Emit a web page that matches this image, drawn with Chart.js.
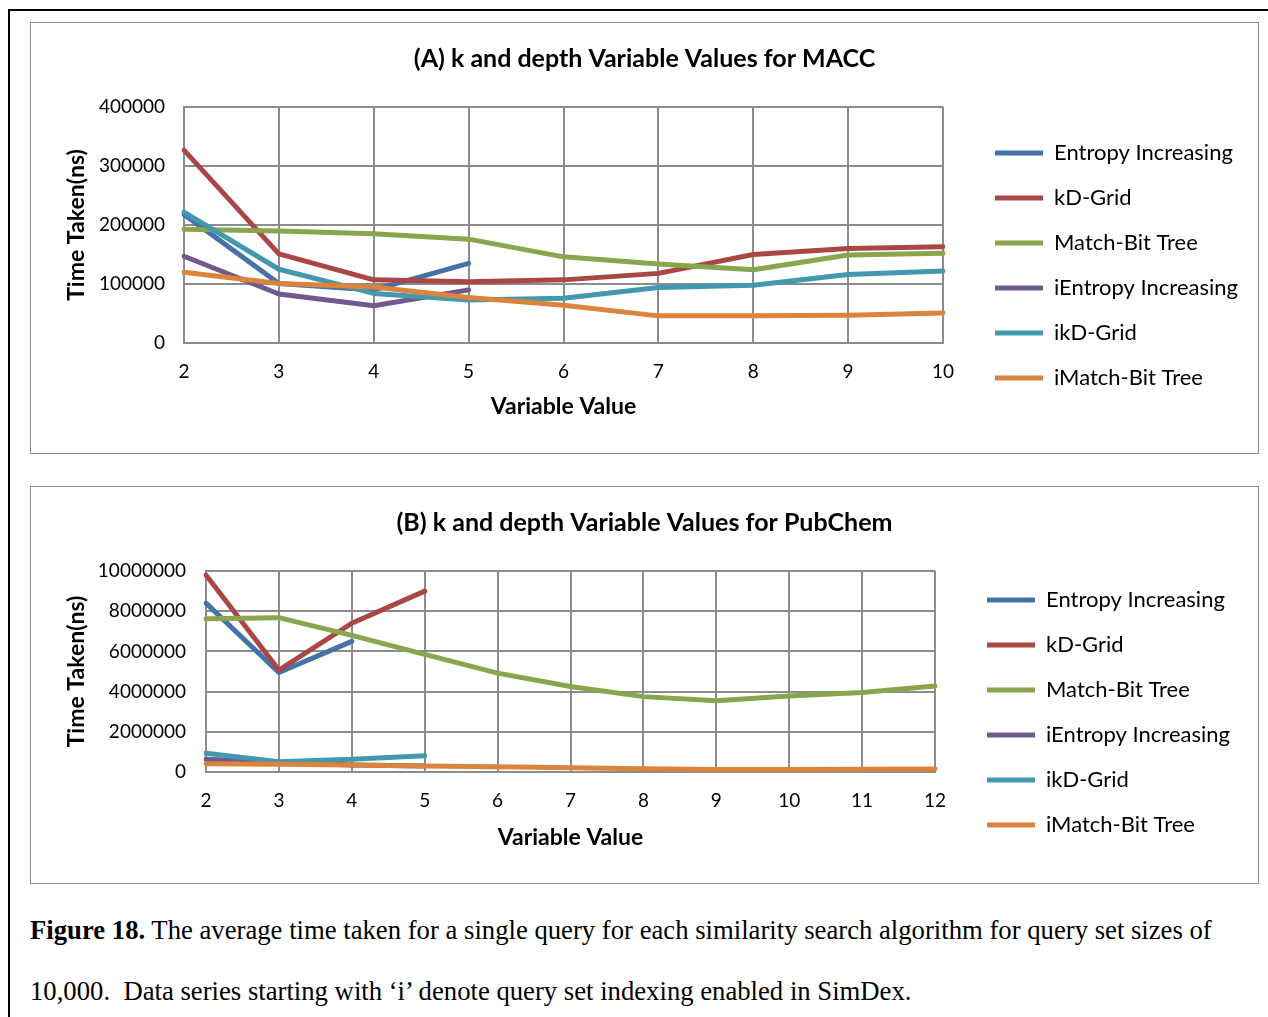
<!DOCTYPE html>
<html>
<head>
<meta charset="utf-8">
<script src="https://cdn.jsdelivr.net/npm/chart.js@4/dist/chart.umd.min.js"></script>
<style>
  body { margin: 0; width: 1268px; height: 1017px; background: #fff; position: relative; overflow: hidden; }
  .frameTop { position: absolute; left: 8px; top: 9px; width: 1260px; height: 2px; background: #000; }
  .frameLeft { position: absolute; left: 8px; top: 9px; width: 2px; height: 1008px; background: #000; }
  .box { position: absolute; left: 30px; width: 1227px; border: 1px solid #8c8c8c; background: #fff; }
  .box canvas { display: block; }
  .caption { position: absolute; left: 30px; font-family: "Liberation Serif", serif; font-size: 26.7px; color: #000; white-space: nowrap; }
</style>
</head>
<body>
<div class="frameTop"></div>
<div class="frameLeft"></div>
<div class="box" style="top:22px;height:430px;"><canvas id="chartA"></canvas></div>
<div class="box" style="top:486px;height:396px;"><canvas id="chartB"></canvas></div>
<div class="caption" style="top:915px;"><b>Figure 18.</b> The average time taken for a single query for each similarity search algorithm for query set sizes of</div>
<div class="caption" style="top:976px;">10,000.&nbsp; Data series starting with ‘i’ denote query set indexing enabled in SimDex.</div>
<script>
const seriesNames = ['Entropy Increasing', 'kD-Grid', 'Match-Bit Tree', 'iEntropy Increasing', 'ikD-Grid', 'iMatch-Bit Tree'];
const seriesColors = ['#4572A7', '#AA4643', '#89A54E', '#71588F', '#4198AF', '#DB843D'];

// (A) MACC
const maccLabels = ['2', '3', '4', '5', '6', '7', '8', '9', '10'];
const maccEntropy = [218000, 101000, 90000, 135000];
const maccKdGrid = [327000, 151000, 107000, 104000, 107000, 118000, 150000, 160000, 163000];
const maccMatchBit = [193000, 190000, 185000, 176000, 146000, 134000, 124000, 149000, 152000];
const maccIEntropy = [147000, 83000, 63000, 90000];
const maccIKdGrid = [222000, 125000, 84000, 73000, 76000, 94000, 98000, 116000, 122000];
const maccIMatchBit = [120000, 101000, 95000, 77000, 64000, 46000, 46000, 47000, 51000];
const maccTicks = [0, 100000, 200000, 300000, 400000];

// (B) PubChem
const pubLabels = ['2', '3', '4', '5', '6', '7', '8', '9', '10', '11', '12'];
const pubEntropy = [8400000, 4950000, 6500000];
const pubKdGrid = [9800000, 5070000, 7400000, 9000000];
const pubMatchBit = [7620000, 7680000, 6800000, 5850000, 4920000, 4250000, 3750000, 3550000, 3780000, 3950000, 4280000];
const pubIEntropy = [640000, 470000, 350000, 300000];
const pubIKdGrid = [930000, 510000, 630000, 810000];
const pubIMatchBit = [410000, 380000, 350000, 300000, 265000, 215000, 165000, 120000, 130000, 140000, 150000];
const pubTicks = [0, 2000000, 4000000, 6000000, 8000000, 10000000];

const FONT = 'Lato, "Open Sans", sans-serif';
const gridColor = '#8c8c8c';
const legendFont = 22;
const legendPad = 23;

// puts the legend block where the original has it, and centres the title on the whole box
const legendPlace = {
    id: 'legendPlace',
    afterLayout(chart, args, opts) {
        const lg = chart.legend;
        const w = lg.right - lg.left, h = lg.bottom - lg.top;
        lg.left = opts.x; lg.right = opts.x + w;
        lg.top = opts.y; lg.bottom = opts.y + h;
        chart.titleBlock.left = 0;
        chart.titleBlock.right = chart.width;
    }
};

function makeChart(id, height, title, labels, series, ticks, g) {
    const canvas = document.getElementById(id);
    canvas.width = 1227;
    canvas.height = height;
    canvas.style.width = '1227px';
    canvas.style.height = height + 'px';
    const datasets = series.map((data, i) => ({
        label: seriesNames[i],
        data: data,
        borderColor: seriesColors[i],
        backgroundColor: seriesColors[i],
        borderWidth: 5,
        borderCapStyle: 'round',
        borderJoinStyle: 'round',
        pointRadius: 0,
        tension: 0,
        order: series.length - i
    }));
    const chart = new Chart(canvas.getContext('2d'), {
        type: 'line',
        data: { labels: labels, datasets: datasets },
        plugins: [legendPlace],
        options: {
            responsive: false,
            animation: false,
            devicePixelRatio: 1,
            layout: { padding: { left: 0, right: 20, top: 0, bottom: 0 } },
            scales: {
                y: {
                    min: ticks[0],
                    max: ticks[ticks.length - 1],
                    afterBuildTicks: (scale) => { scale.ticks = ticks.map(v => ({ value: v })); },
                    afterFit: (scale) => { scale.width = g.left; },
                    grid: { color: gridColor, lineWidth: 2, drawTicks: false },
                    border: { color: gridColor, width: 2 },
                    ticks: {
                        color: '#000',
                        padding: g.tickPadY,
                        font: { family: FONT, size: 19 },
                        callback: (value) => String(value)
                    },
                    title: {
                        display: true,
                        text: 'Time Taken(ns)',
                        color: '#000',
                        font: { family: FONT, size: 23, weight: 'bold' },
                        padding: { top: 32, bottom: 0 }
                    }
                },
                x: {
                    afterFit: (scale) => { scale.height = g.bottom; },
                    grid: { color: gridColor, lineWidth: 2, drawTicks: false },
                    border: { color: gridColor, width: 2 },
                    ticks: {
                        color: '#000',
                        padding: 17,
                        maxRotation: 0,
                        font: { family: FONT, size: 19 }
                    },
                    title: {
                        display: true,
                        text: 'Variable Value',
                        color: '#000',
                        font: { family: FONT, size: 23, weight: 'bold' },
                        padding: { top: 0, bottom: g.xTitlePad }
                    }
                }
            },
            plugins: {
                title: {
                    display: true,
                    text: title,
                    color: '#000',
                    font: { family: FONT, size: 25, weight: 'bold' },
                    padding: { top: 21, bottom: 33 }
                },
                legend: {
                    position: 'right',
                    align: 'start',
                    labels: {
                        usePointStyle: true,
                        pointStyle: 'line',
                        pointStyleWidth: 48,
                        padding: legendPad,
                        color: '#000',
                        font: { family: FONT, size: legendFont },
                        sort: (a, b) => a.datasetIndex - b.datasetIndex
                    }
                },
                legendPlace: { x: g.legendX - legendPad, y: g.legendY - legendPad - legendFont / 2 },
                tooltip: { enabled: false }
            }
        }
    });
    // trim right padding so the plot ends where the original's does
    chart.options.layout.padding.right += chart.chartArea.right - g.right;
    chart.update();
    return chart;
}

makeChart('chartA', 430, '(A) k and depth Variable Values for MACC', maccLabels,
    [maccEntropy, maccKdGrid, maccMatchBit, maccIEntropy, maccIKdGrid, maccIMatchBit], maccTicks,
    { left: 153, right: 912, bottom: 110, tickPadY: 19, xTitlePad: 33, legendX: 964, legendY: 130 });

makeChart('chartB', 396, '(B) k and depth Variable Values for PubChem', pubLabels,
    [pubEntropy, pubKdGrid, pubMatchBit, pubIEntropy, pubIKdGrid, pubIMatchBit], pubTicks,
    { left: 175, right: 904, bottom: 111, tickPadY: 20, xTitlePad: 32, legendX: 956, legendY: 113 });
</script>
</body>
</html>
